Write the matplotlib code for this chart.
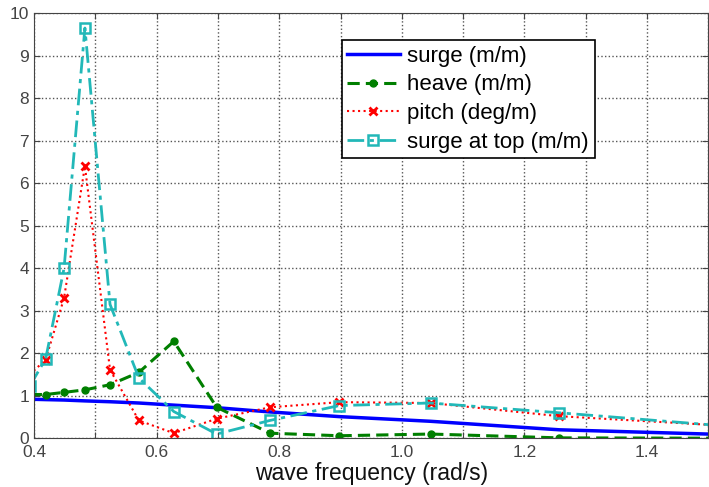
import numpy as np
import matplotlib
matplotlib.use("Agg")
import matplotlib.pyplot as plt

plt.rcParams['font.family'] = ['Liberation Sans', 'DejaVu Sans']

# wave frequencies (rad/s)
freq = [0.393, 0.419, 0.449, 0.483, 0.524, 0.571, 0.628, 0.698, 0.785, 0.898, 1.047, 1.257, 1.571]

surge = [0.92, 0.91, 0.90, 0.88, 0.86, 0.83, 0.78, 0.72, 0.62, 0.51, 0.40, 0.20, 0.07]
heave = [1.03, 1.03, 1.08, 1.14, 1.26, 1.55, 2.28, 0.73, 0.12, 0.06, 0.10, 0.01, 0.0]
pitch = [1.50, 1.85, 3.30, 6.40, 1.61, 0.42, 0.12, 0.46, 0.73, 0.85, 0.83, 0.52, 0.26]
surge_top = [1.23, 1.87, 4.00, 9.65, 3.15, 1.42, 0.63, 0.10, 0.42, 0.77, 0.83, 0.60, 0.24]

xticks = [0.4, 0.5, 0.6, 0.7, 0.8, 0.9, 1.0, 1.1, 1.2, 1.3, 1.4, 1.5]
xticklabels = ["0.4", "", "0.6", "", "0.8", "", "1.0", "", "1.2", "", "1.4", ""]
yticks = list(range(0, 11))

fig = plt.figure(figsize=(7.09, 4.87), dpi=100)
ax = fig.add_axes([0.048, 0.1, 0.951, 0.873])

ax.plot(freq, surge, color="#0000ff", lw=2.5, label="surge (m/m)")
ax.plot(freq, heave, color="#007f00", lw=2.2, ls=(0, (4, 2)), marker="o", ms=5,
        label="heave (m/m)")
ax.plot(freq, pitch, color="#ff0000", lw=1.5, ls=":", marker="x", ms=6, mew=2,
        label="pitch (deg/m)")
ax.plot(freq, surge_top, color="#22b8b8", lw=2, ls=(0, (6, 2, 1.5, 2)), marker="s", ms=7,
        mfc="none", mew=1.8, label="surge at top (m/m)")

ax.set_xlim(0.4, 1.5)
ax.set_ylim(0, 10)
ax.set_xticks(xticks)
ax.set_xticklabels(xticklabels)
ax.set_yticks(yticks)
ax.tick_params(direction="in", labelsize=12.5, colors="#444444", top=True, right=True,
               length=4)
ax.tick_params(axis="x", pad=5)
ax.grid(True, ls=":", color="#555555", lw=1)
for s in ax.spines.values():
    s.set_color("#444444")
ax.set_xlabel("wave frequency (rad/s)", fontsize=16.5, color="#111111", labelpad=1)

leg = ax.legend(loc="upper left", bbox_to_anchor=(0.44, 0.963), fontsize=16,
                fancybox=False, framealpha=1, edgecolor="black", borderpad=0.25,
                labelspacing=0.35, handlelength=2.35, handletextpad=0.35)
leg.get_frame().set_linewidth(1.2)

fig.savefig("out.png", dpi=100)
